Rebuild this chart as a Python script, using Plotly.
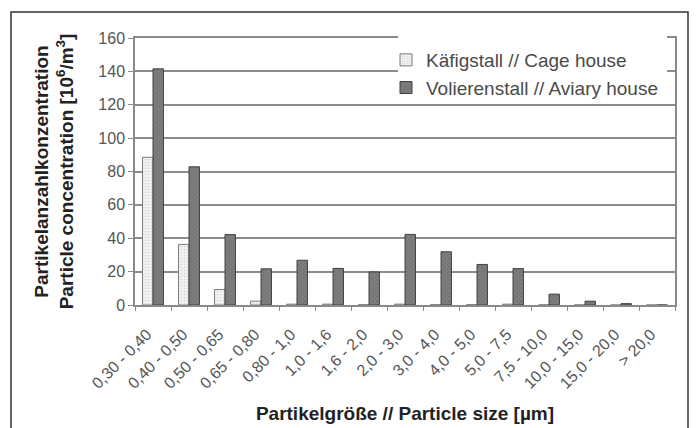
import plotly.graph_objects as go

categories = ["0,30 - 0,40", "0,40 - 0,50", "0,50 - 0,65", "0,65 - 0,80", "0,80 - 1,0",
              "1,0 - 1,6", "1,6 - 2,0", "2,0 - 3,0", "3,0 - 4,0", "4,0 - 5,0",
              "5,0 - 7,5", "7,5 - 10,0", "10,0 - 15,0", "15,0 - 20,0", "> 20,0"]
cage = [88.5, 36.3, 9.3, 2.3, 0.5, 0.5, 0.2, 0.5, 0.2, 0.2, 0.5, 0.1, 0.1, 0.0, 0.0]
aviary = [141.5, 82.8, 42.2, 21.7, 26.8, 21.9, 19.8, 42.3, 31.9, 24.3, 21.8, 6.5, 2.3, 0.8, 0.0]
yticks = [0, 20, 40, 60, 80, 100, 120, 140, 160]

FONT = "Liberation Sans, Arial, sans-serif"

fig = go.Figure()
fig.add_trace(go.Bar(
    x=categories, y=cage, name="Käfigstall // Cage house",
    marker=dict(color="#f4f4f4", line=dict(color="#7a7a7a", width=1),
                pattern=dict(shape=".", fgcolor="#b5b5b5", bgcolor="#f6f6f6", size=3, solidity=0.3)),
))
fig.add_trace(go.Bar(
    x=categories, y=aviary, name="Volierenstall // Aviary house",
    marker=dict(color="#6e6e6e", line=dict(color="#404040", width=1),
                pattern=dict(shape="x", fgcolor="#555555", bgcolor="#808080", size=3, solidity=0.4)),
))

L, R, T, B = 135, 21, 38, 123
W, H = 696, 428
pw, ph = W - L - R, H - T - B

def px(x):
    return (x - L) / pw

def py(y):
    return (H - B - y) / ph

fig.update_layout(
    width=W, height=H,
    margin=dict(l=L, r=R, t=T, b=B, autoexpand=False),
    paper_bgcolor="white", plot_bgcolor="white",
    barmode="group", bargap=0.42, bargroupgap=0,
    font=dict(family=FONT, color="#555555"),
    legend=dict(x=px(386), y=py(41), xanchor="left", yanchor="top",
                bgcolor="rgba(0,0,0,0)", borderwidth=0,
                font=dict(size=19, color="#4a4a4a", family=FONT),
                itemwidth=30, tracegroupgap=0),
    showlegend=True,
    shapes=[
        dict(type="rect", xref="paper", yref="paper",
             x0=px(11), x1=px(688), y0=py(440), y1=py(12),
             line=dict(color="#333333", width=1.5), fillcolor="rgba(0,0,0,0)", layer="below"),
        dict(type="rect", xref="paper", yref="paper",
             x0=px(398), x1=px(667), y0=py(103), y1=py(36),
             line=dict(width=0), fillcolor="white", layer="above"),
    ],
)
fig.update_xaxes(
    type="category", tickangle=-45, tickfont=dict(size=16, color="#555555"),
    showline=True, linecolor="#8a8a8a", linewidth=1.5, mirror=True,
    ticks="outside", tickson="boundaries", ticklen=4, tickcolor="#8a8a8a",
    ticklabelstandoff=12, ticklabelshift=-6,
    showgrid=False,
    title=dict(text="<b>Partikelgröße // Particle size [µm]</b>",
               font=dict(size=19, color="#222222"), standoff=16),
)
fig.update_yaxes(
    range=[0, 160], tickvals=yticks, tickfont=dict(size=16, color="#555555"),
    showline=True, linecolor="#8a8a8a", linewidth=1.5, mirror=True,
    ticks="outside", ticklen=5, tickcolor="#8a8a8a",
    showgrid=True, gridcolor="#8c8c8c", gridwidth=1.5, zeroline=False,
    title=dict(text="<b>Partikelanzahlkonzentration<br>Particle concentration [10<sup>6</sup>/m<sup>3</sup>]</b>",
               font=dict(size=19, color="#222222"), standoff=20),
)

fig.write_html("out.html", config={"displayModeBar": False},
               post_script="document.body.style.margin='0';")
